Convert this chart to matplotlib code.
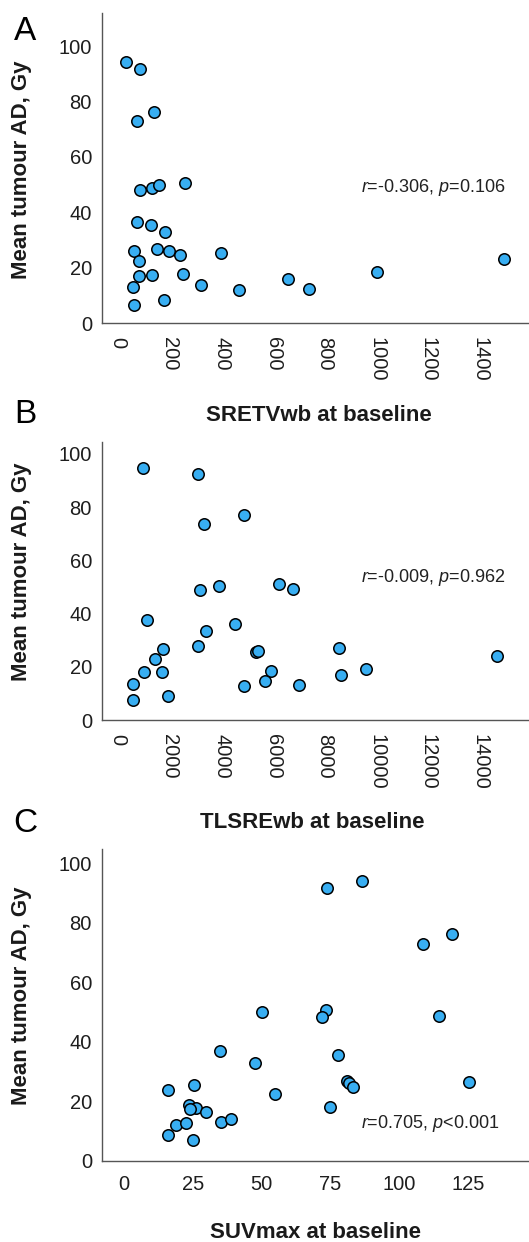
import numpy as np
import matplotlib
matplotlib.use("Agg")
from matplotlib import pyplot as plt

plt.rcParams['font.family'] = ['Liberation Sans', 'DejaVu Sans']
plt.rcParams['mathtext.fontset'] = 'custom'
plt.rcParams['mathtext.rm'] = 'Liberation Sans'
plt.rcParams['mathtext.it'] = 'Liberation Sans:italic'

# mean tumour absorbed dose (same patients in every panel)
dose_a = [94.1, 91.6, 73.0, 76.3, 48.2, 48.7, 49.8, 50.6, 36.7, 35.3, 32.8, 26.0, 22.4, 26.8, 26.2,
          24.8, 25.2, 17.2, 17.4, 17.8, 13.0, 13.8, 11.9, 16.1, 12.3, 18.4, 23.3, 6.6, 8.5]
sretv = [30, 84, 71, 139, 86, 130, 156, 258, 74, 126, 182, 61, 81, 151, 195,
         240, 396, 81, 130, 249, 58, 319, 466, 658, 738, 1000, 1494, 62, 177]

dose_b = [94.9, 92.3, 73.6, 77.1, 48.9, 50.5, 51.1, 49.4, 37.5, 36.1, 33.4, 27.8, 26.5, 23.0, 25.5,
          26.0, 26.9, 24.1, 17.9, 18.1, 18.5, 19.1, 13.6, 14.6, 16.8, 12.8, 13.1, 7.4, 9.1]
tlsre = [942, 3084, 3316, 4852, 3161, 3884, 6206, 6774, 1097, 4529, 3381, 3097, 1729, 1419, 5330,
         5420, 8542, 14671, 994, 1677, 5897, 9574, 581, 5690, 8619, 4865, 6981, 581, 1910]

dose_c = [94.2, 91.6, 72.9, 76.4, 49.9, 50.7, 48.3, 48.8, 36.8, 32.8, 35.5, 23.7, 25.4, 22.6, 27.0,
          26.1, 24.9, 26.4, 18.7, 17.8, 17.4, 16.3, 18.0, 12.2, 12.7, 13.1, 14.2, 8.7, 6.9]
suvmax = [86.3, 73.6, 108.7, 119.2, 50.1, 73.2, 71.8, 114.5, 34.7, 47.7, 77.8, 16.1, 25.4, 55.0, 81.1,
          81.8, 83.3, 125.2, 23.6, 26.2, 24.0, 29.8, 74.8, 18.9, 22.5, 35.1, 38.9, 16.1, 24.9]

yticks = [0, 20, 40, 60, 80, 100]
xticks_a = [0, 200, 400, 600, 800, 1000, 1200, 1400]
xticks_b = [0, 2000, 4000, 6000, 8000, 10000, 12000, 14000]
xticks_c = [0, 25, 50, 75, 100, 125]

letters = ['A', 'B', 'C']
xlabels = ['SRETVwb at baseline', 'TLSREwb at baseline', 'SUVmax at baseline']
stats = ['$r$=-0.306, $p$=0.106', '$r$=-0.009, $p$=0.962', '$r$=0.705, $p$<0.001']

W, H = 529, 1242
fig = plt.figure(figsize=(W / 100, H / 100), dpi=100)


def fx(px):
    return px / W


def fy(py):
    return 1 - py / H


# axes boxes in pixels: left, top, bottom
boxes = [(101.7, 13.3, 323.3), (101.7, 441.7, 720.0), (101.7, 849.3, 1161.0)]
xlims = [(-64, 1590), (-640, 15900), (-8.1, 147.1)]
ylims = [(0, 111.8), (0, 104.6), (0, 104.7)]
xdata = [sretv, tlsre, suvmax]
ydata = [dose_a, dose_b, dose_c]
xticks = [xticks_a, xticks_b, xticks_c]
rots = [270, 270, 0]
letter_y = [31, 415, 824]
xlabel_x = [319, 312, 315]
xlabel_y = [416, 823, 1232]
ylabel_y = [170, 572, 996]
stat_y = [187, 577, 1124]

for i in range(3):
    l, t, b = boxes[i]
    ax = fig.add_axes([fx(l), fy(b), 1 - fx(l), (b - t) / H])
    ax.scatter(xdata[i], ydata[i], s=68, c='#38AEF2', edgecolors='black', linewidths=1.1, zorder=3, clip_on=False)
    ax.set_xlim(*xlims[i])
    ax.set_ylim(*ylims[i])
    ax.set_yticks(yticks)
    ax.set_xticks(xticks[i])
    ax.set_xticklabels([str(v) for v in xticks[i]], rotation=rots[i],
                       va='top', ha='center')
    for s in ['top', 'right']:
        ax.spines[s].set_visible(False)
    for s in ['left', 'bottom']:
        ax.spines[s].set_color('#555555')
        ax.spines[s].set_linewidth(1.0)
    ax.tick_params(axis='both', length=0, labelsize=14.5, colors='#1e1e1e')
    ax.tick_params(axis='y', pad=7)
    ax.tick_params(axis='x', pad=10)
    ax.set_facecolor('none')

    fig.text(fx(25.5), fy(letter_y[i]), letters[i], fontsize=24, ha='center', va='center')
    fig.text(fx(xlabel_x[i]), fy(xlabel_y[i]), xlabels[i], fontsize=16, fontweight='bold',
             ha='center', va='center', color='#1a1a1a')
    fig.text(fx(22), fy(ylabel_y[i]), 'Mean tumour AD, Gy', fontsize=16, fontweight='bold',
             rotation=90, ha='center', va='center', color='#1a1a1a')
    fig.text(fx(361), fy(stat_y[i]), stats[i], fontsize=13, ha='left', va='center', color='#222222')

fig.savefig('out.png', dpi=100)
